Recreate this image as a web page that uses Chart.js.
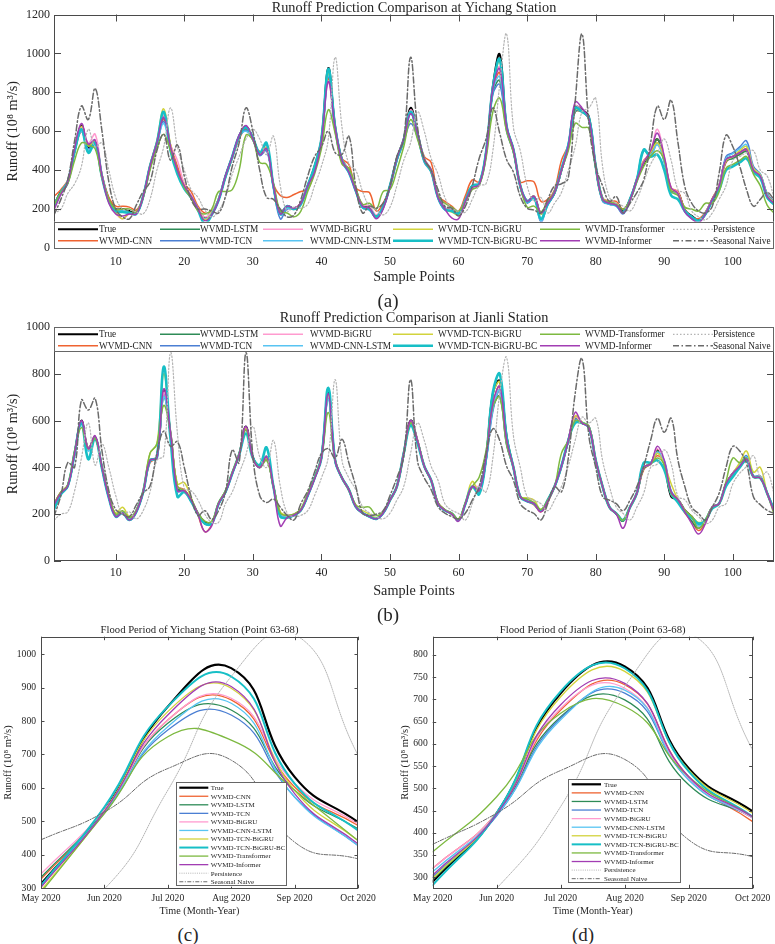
<!DOCTYPE html>
<html>
<head>
<meta charset="utf-8">
<script src="https://cdn.jsdelivr.net/npm/chart.js@4/dist/chart.umd.min.js"></script>
<style>
  html, body { margin: 0; padding: 0; background: #fff; }
  #page { position: relative; width: 775px; height: 944px; overflow: hidden;
          font-family: 'Liberation Serif', 'Times New Roman', serif; color: #262626; }
  canvas { position: absolute; }
  .lbl { position: absolute; transform: translate(-50%, -50%); white-space: nowrap; line-height: 1; }
</style>
</head>
<body>
<div id="page">
  <canvas id="chA" width="775" height="290" style="left:0;top:0"></canvas>
  <canvas id="chB" width="775" height="322" style="left:0;top:290px"></canvas>
  <canvas id="chC" width="388" height="308" style="left:0;top:615px"></canvas>
  <canvas id="chD" width="387" height="308" style="left:388px;top:615px"></canvas>

  <div class="lbl" style="left:414px;top:6.5px;font-size:14.3px">Runoff Prediction Comparison at Yichang Station</div>
  <div class="lbl" style="left:388px;top:300px;font-size:19px">(a)</div>
  <div class="lbl" style="left:414px;top:316.5px;font-size:14.3px">Runoff Prediction Comparison at Jianli Station</div>
  <div class="lbl" style="left:388px;top:614px;font-size:19px">(b)</div>
  <div class="lbl" style="left:199.5px;top:629px;font-size:10.7px">Flood Period of Yichang Station (Point 63-68)</div>
  <div class="lbl" style="left:592.7px;top:629px;font-size:10.7px">Flood Period of Jianli Station (Point 63-68)</div>
  <div class="lbl" style="left:188px;top:934px;font-size:19px">(c)</div>
  <div class="lbl" style="left:583px;top:934px;font-size:19px">(d)</div>
</div>
<script>
// ---- series names / looks
const seriesNames = ['True', 'WVMD-CNN', 'WVMD-LSTM', 'WVMD-TCN', 'WVMD-BiGRU', 'WVMD-CNN-LSTM',
  'WVMD-TCN-BiGRU', 'WVMD-TCN-BiGRU-BC', 'WVMD-Transformer', 'WVMD-Informer', 'Persistence', 'Seasonal Naive'];
const seriesColors = ['#000000', '#EF6331', '#2E8B57', '#4B7FD3', '#FF9BCF', '#58C4F2',
  '#D2D33C', '#17BFC6', '#7DB940', '#A23DB3', '#B4B4B4', '#6A6A6A'];

// ---- Yichang, sample points 1..106
const ycTrue = [
  220, 290, 340, 500, 630, 520, 545, 370, 250, 200,
  200, 190, 180, 265, 420, 540, 680, 520, 400, 320,
  265, 200, 155, 180, 250, 370, 470, 575, 625, 565,
  485, 520, 320, 180, 215, 205, 230, 320, 420, 560,
  925, 625, 455, 400, 300, 215, 205, 165, 215, 320,
  460, 560, 720, 590, 455, 400, 265, 205, 195, 180,
  250, 320, 330, 490, 830, 995, 625, 505, 320, 240,
  265, 180, 230, 285, 400, 525, 725, 710, 675, 420,
  250, 230, 225, 190, 250, 350, 435, 490, 560, 455,
  300, 285, 195, 165, 145, 180, 250, 320, 455, 470,
  490, 505, 400, 370, 265, 230];
const ycCnn = [
  265, 300, 350, 490, 600, 530, 545, 380, 260, 215,
  215, 210, 195, 260, 410, 530, 660, 530, 420, 330,
  290, 215, 180, 190, 250, 360, 460, 560, 610, 560,
  495, 510, 330, 270, 260, 275, 290, 300, 400, 560,
  870, 620, 460, 430, 310, 290, 285, 190, 230, 310,
  450, 550, 700, 590, 470, 440, 270, 240, 215, 190,
  270, 350, 340, 480, 810, 900, 620, 510, 340, 345,
  340, 240, 250, 300, 450, 530, 700, 700, 660, 430,
  260, 240, 240, 200, 250, 360, 450, 480, 560, 450,
  310, 290, 200, 160, 150, 185, 255, 320, 440, 470,
  480, 500, 410, 380, 280, 240];
const ycLstm = [
  210, 285, 340, 500, 615, 525, 545, 375, 240, 195,
  195, 185, 180, 265, 420, 540, 670, 510, 400, 315,
  260, 195, 150, 175, 245, 365, 465, 570, 615, 560,
  480, 510, 320, 175, 210, 200, 225, 315, 415, 550,
  900, 615, 450, 395, 295, 210, 200, 160, 210, 315,
  455, 555, 700, 585, 450, 395, 260, 200, 190, 178,
  245, 315, 325, 480, 800, 860, 610, 495, 315, 235,
  260, 175, 225, 280, 395, 520, 700, 700, 660, 415,
  245, 225, 220, 185, 245, 345, 440, 480, 560, 450,
  295, 280, 190, 160, 140, 175, 245, 315, 445, 460,
  480, 495, 395, 365, 260, 225];
const ycTcn = [
  230, 280, 330, 495, 600, 510, 540, 360, 245, 190,
  190, 180, 175, 260, 415, 530, 650, 500, 390, 310,
  255, 195, 150, 175, 250, 365, 470, 570, 605, 555,
  475, 500, 310, 150, 200, 200, 225, 320, 410, 545,
  880, 610, 440, 390, 290, 205, 195, 155, 210, 315,
  450, 545, 640, 570, 440, 390, 255, 195, 190, 175,
  245, 320, 330, 480, 790, 840, 600, 490, 310, 230,
  255, 135, 220, 280, 395, 520, 705, 700, 665, 410,
  240, 225, 215, 175, 250, 355, 505, 470, 540, 440,
  290, 275, 185, 155, 140, 170, 245, 320, 470, 490,
  520, 550, 420, 380, 280, 240];
const ycBigru = [
  215, 285, 345, 505, 620, 540, 585, 380, 240, 180,
  150, 175, 180, 270, 425, 545, 680, 530, 450, 330,
  270, 205, 160, 185, 255, 370, 470, 575, 620, 565,
  490, 520, 320, 185, 215, 205, 235, 320, 420, 560,
  850, 620, 455, 400, 300, 225, 215, 170, 215, 320,
  460, 560, 710, 600, 460, 405, 270, 205, 195, 180,
  250, 320, 335, 490, 820, 930, 620, 505, 320, 245,
  265, 180, 230, 285, 400, 525, 730, 705, 665, 420,
  250, 230, 225, 185, 245, 345, 445, 500, 610, 470,
  310, 285, 190, 160, 130, 180, 250, 320, 450, 470,
  490, 505, 400, 370, 265, 230];
const ycCnnLstm = [
  225, 280, 335, 495, 600, 500, 530, 360, 245, 190,
  195, 180, 175, 265, 420, 535, 640, 500, 395, 305,
  255, 195, 150, 175, 245, 365, 465, 570, 600, 555,
  480, 510, 310, 170, 205, 200, 225, 320, 415, 550,
  890, 615, 445, 385, 295, 210, 200, 155, 210, 320,
  455, 550, 690, 585, 445, 390, 260, 195, 190, 175,
  245, 315, 325, 485, 810, 880, 610, 500, 320, 235,
  260, 140, 225, 285, 410, 540, 710, 700, 665, 410,
  245, 225, 215, 180, 245, 350, 500, 480, 530, 440,
  290, 275, 185, 150, 135, 170, 245, 315, 460, 485,
  510, 530, 410, 380, 275, 235];
const ycTcnBigru = [
  215, 285, 340, 505, 625, 525, 545, 370, 240, 185,
  150, 180, 180, 270, 425, 550, 715, 530, 400, 320,
  260, 200, 145, 180, 250, 365, 470, 575, 620, 560,
  485, 515, 320, 185, 215, 200, 225, 320, 420, 560,
  900, 625, 450, 400, 300, 215, 200, 155, 205, 315,
  460, 560, 700, 585, 455, 400, 260, 200, 185, 170,
  245, 315, 330, 490, 820, 960, 620, 505, 320, 240,
  265, 175, 230, 285, 400, 525, 710, 700, 665, 420,
  255, 235, 225, 185, 250, 350, 440, 490, 540, 460,
  305, 280, 190, 160, 140, 175, 250, 320, 450, 470,
  500, 520, 410, 375, 270, 235];
const ycTcnBigruBc = [
  215, 285, 340, 495, 610, 490, 540, 365, 240, 190,
  185, 180, 175, 265, 420, 540, 700, 500, 380, 305,
  260, 195, 125, 170, 245, 365, 470, 575, 620, 565,
  490, 540, 320, 175, 215, 200, 225, 320, 420, 560,
  920, 620, 450, 390, 295, 210, 200, 160, 210, 320,
  455, 555, 700, 585, 450, 395, 260, 200, 190, 178,
  245, 320, 330, 490, 825, 970, 625, 505, 320, 240,
  260, 150, 225, 285, 405, 525, 720, 700, 670, 420,
  250, 230, 220, 185, 250, 350, 505, 470, 480, 400,
  270, 250, 190, 160, 140, 175, 245, 300, 400, 420,
  440, 460, 390, 360, 260, 225];
const ycTransformer = [
  220, 285, 330, 450, 540, 530, 510, 360, 250, 200,
  200, 200, 185, 260, 400, 510, 585, 500, 400, 310,
  255, 190, 175, 200, 290, 290, 300, 400, 580, 555,
  440, 430, 330, 190, 180, 160, 190, 290, 380, 510,
  710, 590, 430, 410, 310, 225, 230, 200, 290, 300,
  400, 520, 660, 560, 455, 395, 270, 230, 210, 190,
  240, 300, 320, 460, 700, 770, 600, 490, 320, 210,
  215, 185, 240, 285, 400, 500, 640, 620, 615, 410,
  250, 235, 225, 200, 245, 340, 420, 470, 500, 450,
  290, 270, 210, 200, 190, 230, 230, 290, 410, 430,
  450, 470, 380, 320, 220, 180];
const ycInformer = [
  195, 275, 340, 510, 640, 535, 555, 370, 230, 175,
  165, 175, 175, 265, 420, 540, 670, 520, 400, 320,
  265, 200, 140, 170, 245, 370, 470, 580, 630, 560,
  480, 510, 320, 175, 215, 205, 230, 320, 390, 550,
  855, 620, 450, 390, 295, 215, 205, 150, 200, 315,
  460, 560, 690, 590, 455, 400, 260, 200, 155, 150,
  240, 310, 325, 485, 820, 920, 625, 505, 320, 240,
  265, 180, 230, 285, 400, 525, 750, 720, 665, 420,
  250, 230, 220, 180, 245, 350, 440, 500, 590, 470,
  310, 280, 185, 150, 130, 175, 250, 320, 455, 470,
  490, 505, 400, 370, 265, 230];
const ycPersistence = [
  180, 200, 280, 330, 420, 610, 520, 540, 400, 260,
  200, 195, 185, 175, 250, 400, 520, 720, 520, 400,
  300, 260, 195, 160, 190, 260, 380, 470, 560, 610,
  560, 480, 575, 320, 190, 210, 205, 225, 320, 420,
  560, 980, 620, 430, 400, 290, 215, 195, 170, 210,
  320, 450, 540, 700, 600, 460, 380, 260, 205, 190,
  185, 250, 320, 330, 500, 840, 1100, 620, 500, 320,
  240, 260, 180, 230, 285, 400, 520, 700, 720, 770,
  420, 260, 230, 215, 190, 250, 340, 430, 490, 560,
  450, 300, 280, 190, 160, 145, 180, 250, 320, 450,
  470, 490, 500, 400, 370, 260];
const ycSeasonal = [
  170, 250, 350, 550, 730, 660, 820, 600, 340, 200,
  160, 150, 220, 290, 340, 500, 585, 450, 530, 370,
  250, 200, 200, 190, 180, 265, 420, 540, 720, 600,
  400, 260, 250, 200, 160, 170, 250, 370, 470, 520,
  600, 490, 480, 575, 320, 180, 215, 205, 230, 320,
  470, 560, 980, 625, 455, 400, 300, 215, 205, 165,
  215, 320, 460, 560, 720, 590, 455, 390, 265, 205,
  195, 180, 250, 320, 330, 360, 750, 1100, 640, 420,
  320, 240, 265, 180, 230, 285, 350, 540, 730, 660,
  760, 540, 315, 230, 190, 180, 215, 385, 580, 520,
  420, 300, 215, 250, 285, 250];

// ---- Jianli, sample points 1..106
const jlTrue = [
  240, 290, 320, 460, 600, 480, 530, 400, 275, 195,
  210, 178, 215, 295, 430, 440, 730, 545, 310, 300,
  260, 203, 165, 162, 245, 295, 375, 455, 575, 445,
  400, 445, 318, 203, 190, 196, 217, 280, 355, 445,
  720, 430, 355, 305, 232, 205, 190, 180, 205, 260,
  318, 460, 600, 515, 405, 345, 245, 217, 203, 175,
  245, 318, 295, 440, 715, 770, 535, 400, 275, 260,
  245, 215, 260, 318, 405, 515, 615, 590, 575, 430,
  318, 230, 203, 175, 230, 290, 400, 415, 475, 415,
  275, 262, 217, 190, 160, 175, 230, 245, 330, 375,
  405, 440, 360, 360, 290, 217];
const jlCnn = [
  245, 295, 325, 455, 590, 475, 525, 400, 280, 200,
  205, 180, 210, 295, 420, 445, 720, 545, 320, 305,
  260, 195, 125, 155, 245, 295, 375, 455, 570, 440,
  405, 440, 320, 205, 195, 200, 220, 285, 355, 440,
  710, 435, 355, 300, 240, 205, 190, 180, 205, 260,
  315, 455, 595, 515, 405, 345, 250, 220, 200, 175,
  245, 318, 300, 445, 669, 744, 511, 400, 275, 255,
  240, 210, 250, 320, 400, 510, 610, 590, 570, 430,
  320, 230, 200, 170, 230, 290, 390, 415, 450, 420,
  290, 255, 205, 170, 130, 165, 230, 245, 330, 370,
  400, 430, 360, 355, 290, 215];
const jlLstm = [
  240, 290, 320, 465, 595, 480, 525, 400, 270, 190,
  205, 175, 210, 295, 430, 445, 700, 540, 310, 300,
  255, 200, 160, 160, 245, 295, 375, 455, 570, 440,
  400, 440, 318, 200, 190, 195, 215, 280, 355, 440,
  700, 430, 355, 305, 232, 205, 190, 180, 205, 260,
  318, 460, 590, 515, 405, 345, 245, 217, 200, 175,
  245, 318, 300, 430, 650, 705, 495, 400, 275, 255,
  245, 215, 255, 318, 405, 510, 610, 590, 570, 430,
  318, 230, 200, 170, 230, 290, 395, 415, 470, 420,
  280, 260, 210, 170, 140, 170, 230, 245, 330, 375,
  405, 435, 360, 355, 290, 215];
const jlTcn = [
  235, 285, 320, 455, 595, 480, 530, 395, 270, 195,
  210, 178, 215, 295, 430, 440, 715, 540, 300, 300,
  260, 200, 160, 160, 245, 295, 375, 455, 565, 445,
  400, 445, 318, 200, 190, 196, 217, 280, 355, 440,
  700, 430, 355, 305, 232, 205, 190, 180, 205, 260,
  318, 460, 595, 515, 405, 345, 245, 217, 203, 175,
  245, 318, 305, 425, 640, 725, 505, 395, 275, 255,
  245, 215, 260, 318, 405, 515, 605, 590, 570, 430,
  318, 230, 203, 175, 230, 290, 400, 415, 460, 430,
  300, 262, 210, 185, 155, 175, 230, 245, 330, 375,
  410, 450, 365, 360, 290, 217];
const jlBigru = [
  245, 290, 320, 460, 595, 480, 530, 400, 275, 200,
  210, 180, 215, 295, 430, 440, 720, 545, 320, 300,
  260, 203, 160, 160, 245, 295, 375, 455, 570, 440,
  400, 445, 318, 203, 190, 196, 217, 280, 355, 445,
  705, 430, 355, 305, 232, 205, 190, 180, 205, 260,
  318, 460, 595, 515, 405, 345, 245, 217, 203, 175,
  245, 320, 320, 440, 665, 730, 510, 400, 275, 260,
  245, 215, 260, 318, 405, 515, 615, 590, 575, 430,
  318, 230, 203, 175, 230, 290, 400, 415, 480, 420,
  285, 262, 217, 185, 150, 175, 230, 245, 330, 375,
  405, 440, 360, 360, 290, 217];
const jlCnnLstm = [
  235, 285, 318, 455, 590, 470, 525, 395, 270, 195,
  205, 178, 210, 295, 425, 440, 700, 540, 300, 295,
  255, 200, 160, 160, 245, 295, 375, 455, 560, 440,
  400, 445, 318, 200, 185, 196, 217, 280, 355, 440,
  690, 425, 355, 305, 232, 205, 190, 180, 205, 260,
  318, 455, 590, 515, 405, 345, 245, 217, 203, 175,
  245, 318, 312, 430, 650, 730, 510, 395, 275, 255,
  245, 215, 260, 318, 405, 515, 600, 590, 570, 430,
  318, 230, 203, 175, 230, 290, 400, 415, 465, 425,
  290, 262, 215, 185, 150, 175, 230, 245, 330, 375,
  410, 445, 360, 360, 290, 217];
const jlTcnBigru = [
  240, 290, 320, 460, 590, 480, 530, 400, 275, 205,
  230, 190, 215, 300, 460, 500, 800, 545, 330, 335,
  270, 203, 160, 165, 245, 300, 375, 455, 565, 440,
  405, 440, 318, 210, 195, 200, 225, 290, 355, 440,
  710, 430, 355, 305, 232, 215, 200, 185, 210, 260,
  318, 460, 595, 515, 405, 345, 245, 217, 205, 178,
  250, 340, 295, 440, 710, 765, 535, 400, 275, 270,
  260, 220, 260, 320, 405, 515, 620, 595, 575, 430,
  318, 230, 203, 175, 230, 290, 400, 415, 460, 410,
  330, 262, 217, 190, 165, 175, 230, 245, 330, 375,
  420, 470, 380, 400, 290, 217];
const jlTcnBigruBc = [
  220, 285, 320, 460, 590, 435, 525, 395, 270, 190,
  205, 175, 210, 295, 430, 440, 830, 520, 275, 295,
  255, 200, 160, 160, 245, 295, 375, 455, 545, 440,
  410, 485, 318, 190, 185, 196, 217, 280, 355, 440,
  740, 430, 355, 305, 232, 205, 190, 180, 205, 260,
  318, 460, 580, 505, 405, 345, 245, 217, 203, 175,
  245, 318, 285, 440, 720, 800, 530, 400, 275, 255,
  245, 215, 260, 318, 405, 515, 590, 590, 570, 430,
  318, 230, 203, 175, 230, 290, 420, 420, 430, 390,
  290, 250, 210, 185, 160, 175, 225, 245, 320, 360,
  400, 430, 360, 355, 290, 217];
const jlTransformer = [
  245, 295, 325, 470, 570, 480, 525, 400, 280, 200,
  215, 185, 215, 300, 460, 500, 665, 545, 320, 300,
  265, 205, 170, 170, 250, 300, 380, 460, 560, 440,
  400, 430, 318, 205, 195, 200, 220, 285, 355, 440,
  635, 430, 355, 305, 240, 230, 230, 195, 210, 260,
  318, 460, 590, 515, 405, 345, 250, 220, 205, 180,
  250, 318, 358, 470, 660, 700, 500, 400, 275, 265,
  250, 220, 260, 318, 460, 515, 600, 590, 575, 430,
  318, 230, 203, 175, 230, 290, 400, 415, 440, 410,
  290, 262, 217, 190, 140, 175, 230, 245, 340, 440,
  420, 440, 360, 355, 290, 200];
const jlInformer = [
  240, 290, 320, 460, 600, 480, 535, 400, 270, 190,
  205, 175, 210, 295, 430, 440, 735, 545, 300, 300,
  260, 200, 125, 150, 245, 295, 375, 455, 575, 440,
  400, 445, 318, 150, 185, 196, 217, 280, 350, 440,
  715, 430, 355, 305, 232, 205, 190, 180, 205, 260,
  318, 460, 600, 515, 405, 345, 245, 217, 200, 170,
  245, 318, 300, 440, 675, 745, 520, 400, 275, 255,
  245, 210, 255, 318, 405, 515, 635, 590, 570, 430,
  318, 230, 200, 140, 230, 290, 400, 415, 490, 430,
  295, 262, 210, 160, 115, 160, 230, 245, 330, 375,
  405, 435, 360, 355, 290, 210];
const jlPersistence = [
  175, 200, 210, 300, 440, 590, 410, 500, 400, 280,
  200, 210, 180, 215, 295, 430, 450, 890, 545, 310,
  300, 260, 200, 165, 165, 245, 295, 375, 455, 575,
  445, 400, 515, 320, 205, 190, 195, 215, 280, 355,
  445, 775, 430, 355, 305, 232, 205, 190, 180, 205,
  260, 318, 460, 590, 515, 405, 345, 245, 217, 203,
  175, 245, 318, 295, 440, 715, 870, 535, 400, 275,
  260, 245, 215, 260, 318, 405, 515, 615, 590, 610,
  430, 318, 230, 203, 175, 230, 290, 400, 415, 475,
  415, 275, 262, 217, 190, 160, 175, 230, 245, 330,
  375, 405, 450, 360, 380, 290];
const jlSeasonal = [
  190, 280, 420, 400, 688, 645, 695, 470, 300, 220,
  200, 190, 240, 290, 320, 460, 555, 490, 510, 400,
  275, 195, 215, 178, 215, 295, 475, 420, 890, 450,
  280, 250, 265, 230, 195, 175, 245, 300, 380, 460,
  480, 440, 520, 420, 320, 205, 195, 200, 215, 280,
  355, 445, 775, 430, 355, 305, 232, 205, 190, 180,
  205, 260, 318, 460, 565, 515, 405, 345, 245, 217,
  203, 175, 245, 318, 295, 440, 715, 865, 535, 400,
  275, 260, 245, 215, 260, 318, 405, 515, 610, 550,
  610, 430, 318, 230, 203, 175, 230, 290, 400, 490,
  470, 415, 275, 240, 217, 203];

// ---- flood period, points 63-68 (May..Oct 2020)
const floodMonths = ['May 2020', 'Jun 2020', 'Jul 2020', 'Aug 2020', 'Sep 2020', 'Oct 2020'];
const fcTrue = [313, 533, 843, 958, 633, 498];
const fcCnn = [328, 528, 803, 863, 603, 488];
const fcLstm = [333, 530, 793, 833, 593, 478];
const fcTcn = [308, 525, 773, 818, 573, 428];
const fcBigru = [343, 535, 803, 868, 613, 493];
const fcCnnLstm = [308, 528, 783, 853, 573, 428];
const fcTcnBigru = [293, 530, 828, 898, 593, 443];
const fcTcnBigruBc = [308, 543, 843, 933, 613, 473];
const fcTransformer = [288, 523, 753, 743, 593, 443];
const fcInformer = [303, 530, 818, 903, 583, 433];
const fcPersistence = [200, 298, 593, 933, 1060, 698];
const fcSeasonal = [445, 528, 658, 683, 438, 388];

const fdTrue = [290, 444, 714, 774, 545, 448];
const fdCnn = [320, 445, 676, 733, 526, 425];
const fdLstm = [294, 440, 661, 699, 508, 436];
const fdTcn = [301, 438, 658, 714, 519, 433];
const fdBigru = [320, 445, 680, 725, 523, 433];
const fdCnnLstm = [312, 440, 654, 721, 519, 436];
const fdTcnBigru = [297, 444, 706, 763, 541, 444];
const fdTcnBigruBc = [282, 444, 718, 770, 538, 436];
const fdTransformer = [357, 481, 669, 684, 526, 436];
const fdInformer = [305, 442, 688, 736, 526, 436];
const fdPersistence = [150, 275, 459, 729, 850, 586];
const fdSeasonal = [374, 444, 540, 565, 384, 346];

const FONT = "'Liberation Serif', 'Times New Roman', serif";
Chart.defaults.font.family = FONT;
Chart.defaults.color = '#262626';

const bigWidths = [2, 1.5, 1.5, 1.5, 1.5, 1.5, 1.5, 2.6, 1.5, 1.5, 1.2, 1.5];
const bigDash = [[], [], [], [], [], [], [], [], [], [], [1.5, 2], [6, 2.5, 1.5, 2.5]];
const smallWidths = [2.2, 1.3, 1.3, 1.3, 1.3, 1.3, 1.3, 2, 1.3, 1.3, 1, 1];
const smallDash = [[], [], [], [], [], [], [], [], [], [], [1, 1.2], [4, 1.5, 1, 1.5]];

function buildSets(values, widths, dashes) {
  return values.map((vals, i) => ({
    label: seriesNames[i],
    data: vals.map((v, k) => ({ x: widths === bigWidths ? k + 1 : k, y: v })),
    borderColor: seriesColors[i],
    borderWidth: widths[i],
    borderDash: dashes[i],
    order: values.length - i,
    fill: false
  }));
}

// box frame with inward ticks on all four sides
const frameTicks = {
  id: 'frameTicks',
  afterDatasetsDraw(chart, args, o) {
    const { ctx, chartArea: a } = chart;
    const x = chart.scales.x, y = chart.scales.y;
    ctx.save();
    ctx.strokeStyle = '#4a4a4a';
    ctx.lineWidth = 1;
    ctx.beginPath();
    x.ticks.forEach(t => {
      const px = Math.round(x.getPixelForValue(t.value)) + 0.5;
      ctx.moveTo(px, a.bottom); ctx.lineTo(px, a.bottom - o.len);
      ctx.moveTo(px, a.top); ctx.lineTo(px, a.top + o.len);
    });
    y.ticks.forEach(t => {
      const py = Math.round(y.getPixelForValue(t.value)) + 0.5;
      ctx.moveTo(a.left, py); ctx.lineTo(a.left + o.len, py);
      ctx.moveTo(a.right, py); ctx.lineTo(a.right - o.len, py);
    });
    ctx.stroke();
    ctx.strokeRect(Math.round(a.left) + 0.5, Math.round(a.top) + 0.5,
      Math.round(a.right - a.left) - 1, Math.round(a.bottom - a.top) - 1);
    ctx.restore();
  }
};

// legend laid out column-major inside the plot, like the matlab one
const boxLegend = {
  id: 'boxLegend',
  afterDatasetsDraw(chart, args, o) {
    const { ctx, chartArea: a } = chart;
    const L = a.left + o.x, T = a.top + o.y;
    ctx.save();
    ctx.fillStyle = '#fff';
    ctx.fillRect(L, T, o.w, o.h);
    ctx.strokeStyle = '#666';
    ctx.lineWidth = 1;
    ctx.strokeRect(Math.round(L) + 0.5, Math.round(T) + 0.5, Math.round(o.w) - 1, Math.round(o.h) - 1);
    ctx.font = o.font + 'px ' + FONT;
    ctx.textBaseline = 'middle';
    chart.data.datasets.forEach((ds, i) => {
      const col = Math.floor(i / o.rows), row = i % o.rows;
      const yy = T + o.row0 + row * o.rowStep;
      const x0 = L + o.lineX[col];
      ctx.save();
      ctx.strokeStyle = ds.borderColor;
      ctx.lineWidth = ds.borderWidth;
      ctx.setLineDash(ds.borderDash || []);
      ctx.beginPath(); ctx.moveTo(x0, yy); ctx.lineTo(x0 + o.lineLen, yy); ctx.stroke();
      ctx.restore();
      ctx.fillStyle = '#262626';
      ctx.fillText(ds.label, L + o.textX[col], yy + 0.5);
    });
    ctx.restore();
  }
};

const plainNum = v => String(v);

function makeChart(id, g, datasets, xs, ys, legend) {
  const c = document.getElementById(id);
  return new Chart(c, {
    type: 'line',
    data: { datasets },
    options: {
      responsive: false,
      animation: false,
      events: [],
      layout: { padding: { left: 0, top: g.top, right: c.width - g.right, bottom: 0 } },
      elements: { point: { radius: 0 }, line: { tension: g.tension, borderCapStyle: 'round', borderJoinStyle: 'round' } },
      plugins: {
        legend: { display: false },
        tooltip: { enabled: false },
        frameTicks: { len: g.tickLen },
        boxLegend: legend
      },
      scales: {
        x: Object.assign({
          type: 'linear',
          grid: { display: false, drawTicks: false },
          border: { display: false },
          afterFit: s => { s.height = c.height - g.bottom; }
        }, xs),
        y: Object.assign({
          type: 'linear',
          grid: { display: false, drawTicks: false },
          border: { display: false },
          afterFit: s => { s.width = g.left; }
        }, ys)
      }
    },
    plugins: [frameTicks, boxLegend]
  });
}

const yLabel = 'Runoff (10\u2078 m\u00B3/s)';
const bigLegendCols = { lineX: [4, 106, 209, 339, 486, 619], textX: [45, 146, 256, 384, 531, 659], lineLen: 40, rows: 2, font: 9.3 };

// (a) Yichang
makeChart('chA', { left: 54, top: 14.5, right: 774, bottom: 248, tickLen: 7, tension: 0.4 },
  buildSets([ycTrue, ycCnn, ycLstm, ycTcn, ycBigru, ycCnnLstm, ycTcnBigru, ycTcnBigruBc,
    ycTransformer, ycInformer, ycPersistence, ycSeasonal], bigWidths, bigDash),
  {
    min: 1, max: 106,
    afterBuildTicks: s => { s.ticks = s.ticks.filter(t => t.value % 10 === 0); },
    ticks: { stepSize: 10, font: { size: 12 }, padding: 6.5, callback: plainNum },
    title: { display: true, text: 'Sample Points', font: { size: 14.2 }, padding: { top: 0, bottom: 4.5 } }
  },
  {
    min: 0, max: 1200,
    ticks: { stepSize: 200, font: { size: 12 }, padding: 4, callback: plainNum },
    title: { display: true, text: yLabel, font: { size: 14.2 }, padding: { top: 4.5, bottom: 0 } }
  },
  Object.assign({ x: 0, y: 207.2, w: 720, h: 26.5, row0: 7.6, rowStep: 11.4 }, bigLegendCols));

// (b) Jianli
makeChart('chB', { left: 54, top: 37, right: 774, bottom: 271, tickLen: 7, tension: 0.4 },
  buildSets([jlTrue, jlCnn, jlLstm, jlTcn, jlBigru, jlCnnLstm, jlTcnBigru, jlTcnBigruBc,
    jlTransformer, jlInformer, jlPersistence, jlSeasonal], bigWidths, bigDash),
  {
    min: 1, max: 106,
    afterBuildTicks: s => { s.ticks = s.ticks.filter(t => t.value % 10 === 0); },
    ticks: { stepSize: 10, font: { size: 12 }, padding: 5, callback: plainNum },
    title: { display: true, text: 'Sample Points', font: { size: 14.2 }, padding: { top: 0, bottom: 12.5 } }
  },
  {
    min: 0, max: 1000,
    ticks: { stepSize: 200, font: { size: 12 }, padding: 4, callback: plainNum },
    title: { display: true, text: yLabel, font: { size: 14.2 }, padding: { top: 4.5, bottom: 0 } }
  },
  Object.assign({ x: 0, y: 0, w: 720, h: 24.7, row0: 7.3, rowStep: 11.4 }, bigLegendCols));

const monthTicks = {
  min: 0, max: 5,
  ticks: { stepSize: 1, font: { size: 9.6 }, padding: 4.2, callback: v => floodMonths[v] },
  title: { display: true, text: 'Time (Month-Year)', font: { size: 10.2 }, padding: { top: 0, bottom: 5.9 } }
};

// (c) Yichang flood period
makeChart('chC', { left: 41, top: 21.7, right: 358, bottom: 273.3, tickLen: 3.5, tension: 0.5 },
  buildSets([fcTrue, fcCnn, fcLstm, fcTcn, fcBigru, fcCnnLstm, fcTcnBigru, fcTcnBigruBc,
    fcTransformer, fcInformer, fcPersistence, fcSeasonal], smallWidths, smallDash),
  monthTicks,
  {
    min: 300, max: 1052,
    afterBuildTicks: s => { s.ticks = s.ticks.filter(t => t.value % 100 === 0); },
    ticks: { stepSize: 100, font: { size: 9.6 }, padding: 5, callback: plainNum },
    title: { display: true, text: yLabel, font: { size: 10.5 }, padding: { top: 1.8, bottom: 0 } }
  },
  { x: 135, y: 145.6, w: 111, h: 104.4, rows: 12, row0: 5.4, rowStep: 8.55,
    lineX: [3.3], textX: [34.7], lineLen: 29, font: 7 });

// (d) Jianli flood period
makeChart('chD', { left: 44.7, top: 21.7, right: 364.7, bottom: 273.3, tickLen: 3.5, tension: 0.5 },
  buildSets([fdTrue, fdCnn, fdLstm, fdTcn, fdBigru, fdCnnLstm, fdTcnBigru, fdTcnBigruBc,
    fdTransformer, fdInformer, fdPersistence, fdSeasonal], smallWidths, smallDash),
  monthTicks,
  {
    min: 275, max: 841,
    afterBuildTicks: s => { s.ticks = s.ticks.filter(t => t.value % 50 === 0); },
    ticks: { stepSize: 50, font: { size: 9.6 }, padding: 5, callback: plainNum },
    title: { display: true, text: yLabel, font: { size: 10.5 }, padding: { top: 10.8, bottom: 0 } }
  },
  { x: 135.6, y: 142.6, w: 112.7, h: 104, rows: 12, row0: 5, rowStep: 8.58,
    lineX: [3.4], textX: [35.7], lineLen: 29.3, font: 7 });
</script>
</body>
</html>
